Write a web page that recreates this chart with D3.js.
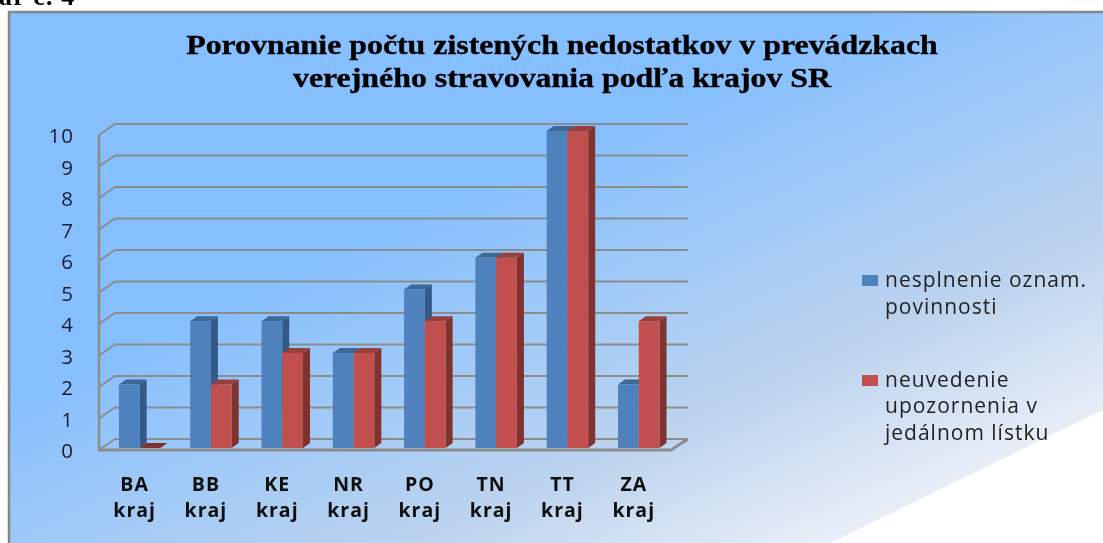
<!DOCTYPE html>
<html><head><meta charset="utf-8">
<script src="https://cdn.jsdelivr.net/npm/d3@7"></script>
<style>html,body{margin:0;padding:0;background:#fff;overflow:hidden}svg{display:block}</style>
</head><body>
<svg id="c" width="1103" height="543"></svg>
<script>
const categories = ["BA","BB","KE","NR","PO","TN","TT","ZA"];
const categorySuffix = "kraj";
const nesplnenie = [2,4,4,3,5,6,10,2];
const neuvedenie = [0,2,3,3,4,6,10,4];
const yTicks = [0,1,2,3,4,5,6,7,8,9,10];
const titleLines = ["Porovnanie počtu zistených nedostatkov v prevádzkach","verejného stravovania podľa krajov SR"];
const legendLines = [["nesplnenie oznam.","povinnosti"],["neuvedenie","upozornenia v","jedálnom lístku"]];
const colors = ["#4f81bd","#c0504d"];
const sideColors = ["#345a88","#7f302e"];
const topColors = ["#3f6796","#96403d"];

const svg = d3.select("#c");
const defs = svg.append("defs");
const g = defs.append("linearGradient").attr("id","bg")
  .attr("gradientUnits","userSpaceOnUse").attr("x1",0).attr("y1",400).attr("x2",206).attr("y2",857);
[[0,"#85bfff"],[0.27,"#9ec9f8"],[0.6,"#bcd3ee"],[0.93,"#e8eef7"],[1,"#eef2f9"]].forEach(([o,c])=>
  g.append("stop").attr("offset",o).attr("stop-color",c));
defs.append("filter").attr("id","soft").append("feGaussianBlur").attr("stdDeviation",0.45);

const root = svg.append("g").attr("filter","url(#soft)");
root.append("path").attr("d","M9,12H1103V410L830,543H9Z").attr("fill","url(#bg)");
root.append("path").attr("d","M1103,12H9V543").attr("fill","none").attr("stroke","#868686").attr("stroke-width",2.5);

root.append("text").attr("x",-1).attr("y",5).text("ar č. 4")
  .attr("font-family","'Liberation Serif'").attr("font-weight","bold").attr("font-size",26).attr("letter-spacing",1.2).attr("fill","#000");

titleLines.forEach((t,i)=>root.append("text")
  .attr("transform",`translate(562,${[54,87][i]}) scale(1.18,1)`).attr("text-anchor","middle")
  .attr("font-family","'Liberation Serif'").attr("font-weight","bold").attr("font-size",27)
  .attr("stroke","#000").attr("stroke-width",0.35).attr("fill","#000").text(t));

const dx=16, dy=-11, bdx=7, bdy=-5;
const yFront = d3.scaleLinear().domain([0,10]).range([450,135]);
const yBar = d3.scaleLinear().domain([0,10]).range([448,131]);
const x0 = d3.scaleBand().domain(categories).range([104,674.4]);
const x1 = d3.scaleBand().domain([0,1]).range([0,41.5]);
const barOff = (x0.bandwidth()-41.5)/2;

const grid = root.append("g").attr("fill","none").attr("stroke","#8c8c8c").attr("stroke-width",2);
yTicks.forEach(v=>{
  const y=yFront(v);
  grid.append("path").attr("d",`M99,${y}L${99+dx},${y+dy}H688`);
});
grid.append("path").attr("d",`M99,${yFront(10)}V${yFront(0)}`).attr("stroke-width",2.5);
grid.append("path").attr("d",`M98,450H671L688,439`).attr("stroke-width",3);

const axis = d3.axisLeft(yFront).tickValues(yTicks).tickSize(0).tickPadding(0).tickFormat(d3.format("d"));
const ag = root.append("g").attr("transform","translate(74,1)").call(axis);
ag.select(".domain").remove();
ag.selectAll("text").attr("font-family","'Open Sans'").attr("font-size",20.5).attr("fill","#1c1c2a").attr("letter-spacing",1).attr("dy","0.32em");

const groups = root.selectAll(".cat").data(categories).join("g").attr("class","cat");
groups.each(function(c,i){
  const gr=d3.select(this);
  [nesplnenie[i],neuvedenie[i]].forEach((v,s)=>{
    const l=x0(c)+barOff+x1(s), w=x1.bandwidth(), yt=yBar(v), yb=yBar(0);
    if(v===0){
      gr.append("path").attr("d",`M${l},${yb}l${bdx},${bdy}h${w}l${-bdx},${-bdy}Z`).attr("fill",sideColors[s]);
      return;
    }
    gr.append("path").attr("d",`M${l+w},${yt}l${bdx},${bdy}V${yb+bdy}l${-bdx},${-bdy}Z`).attr("fill",sideColors[s]);
    gr.append("path").attr("d",`M${l},${yt}l${bdx},${bdy}h${w}l${-bdx},${-bdy}Z`).attr("fill",topColors[s]);
    gr.append("rect").attr("x",l).attr("y",yt).attr("width",w).attr("height",yb-yt).attr("fill",colors[s]);
  });
  const cx=x0(c)+x0.bandwidth()/2-5;
  const lab=(t,y)=>gr.append("text").attr("x",cx).attr("y",y).attr("text-anchor","middle")
    .attr("font-family","'Open Sans'").attr("font-weight","bold").attr("font-size",19.5).attr("letter-spacing",1).attr("fill","#111").text(t);
  lab(c,491); lab(categorySuffix,517);
});

const legendY=[[287,314],[387,413,440]], swatchY=[275,375];
legendLines.forEach((lines,s)=>{
  root.append("rect").attr("x",862).attr("y",swatchY[s]).attr("width",16).attr("height",11).attr("fill",colors[s]);
  lines.forEach((t,j)=>root.append("text").attr("x",885).attr("y",legendY[s][j])
    .attr("font-family","'Open Sans'").attr("font-size",21).attr("letter-spacing",1).attr("fill","#222").text(t));
});
</script>
</body></html>
